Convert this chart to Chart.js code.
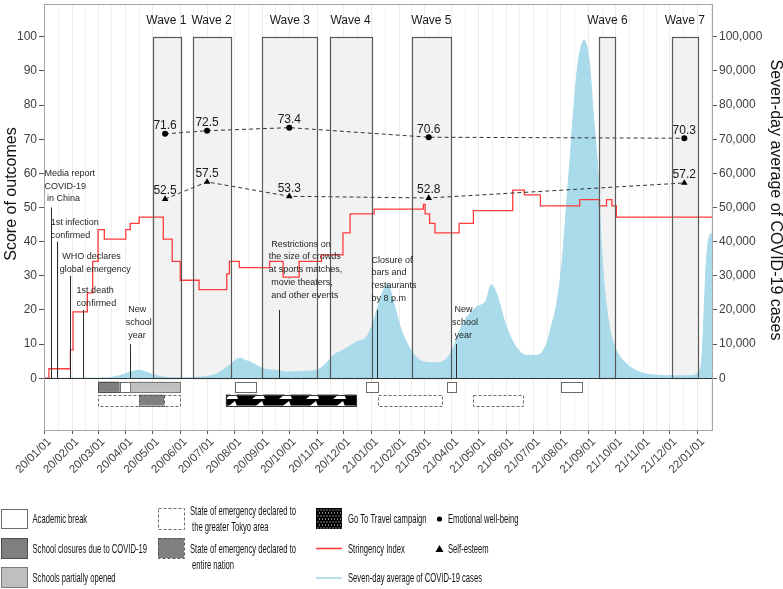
<!DOCTYPE html>
<html>
<head>
<meta charset="utf-8">
<script src="https://cdn.jsdelivr.net/npm/chart.js@4.4.0/dist/chart.umd.min.js"></script>
<style>
  html, body { margin: 0; padding: 0; background: #fff; }
  #wrap { width: 783px; height: 589px; }
</style>
</head>
<body>
<div id="wrap"><canvas id="chart" width="783" height="589"></canvas></div>
<script>
const FONT = "'Liberation Sans', Arial, sans-serif";

// --- 1. Data ---
const tickLabels = ['20/01/01', '20/02/01', '20/03/01', '20/04/01', '20/05/01', '20/06/01', '20/07/01',
    '20/08/01', '20/09/01', '20/10/01', '20/11/01', '20/12/01', '21/01/01', '21/02/01', '21/03/01',
    '21/04/01', '21/05/01', '21/06/01', '21/07/01', '21/08/01', '21/09/01', '21/10/01', '21/11/01',
    '21/12/01', '22/01/01'];
const scoreTicks = [0, 10, 20, 30, 40, 50, 60, 70, 80, 90, 100];
const caseTicks = [0, 10000, 20000, 30000, 40000, 50000, 60000, 70000, 80000, 90000, 100000];

const caseDates = ['2020-01-01', '2020-03-01', '2020-03-16', '2020-03-31', '2020-04-08', '2020-04-15',
    '2020-04-22', '2020-04-30', '2020-05-12', '2020-05-25', '2020-06-12', '2020-06-26', '2020-07-09',
    '2020-07-15', '2020-07-26', '2020-08-01', '2020-08-07', '2020-08-13', '2020-08-18', '2020-08-25',
    '2020-09-02', '2020-09-17', '2020-10-01', '2020-10-16', '2020-10-31', '2020-11-11', '2020-11-19',
    '2020-11-30', '2020-12-15', '2020-12-26', '2021-01-01', '2021-01-07', '2021-01-14', '2021-01-19',
    '2021-01-25', '2021-01-31', '2021-02-05', '2021-02-16', '2021-02-28', '2021-03-15', '2021-03-26',
    '2021-04-02', '2021-04-13', '2021-04-28', '2021-05-09', '2021-05-15', '2021-05-21', '2021-06-01',
    '2021-06-12', '2021-06-24', '2021-07-05', '2021-07-16', '2021-07-21', '2021-07-27', '2021-08-02',
    '2021-08-07', '2021-08-11', '2021-08-15', '2021-08-20', '2021-08-27', '2021-09-02', '2021-09-06',
    '2021-09-12', '2021-09-15', '2021-09-19', '2021-09-25', '2021-10-02', '2021-10-13', '2021-10-28',
    '2021-11-16', '2021-12-05', '2021-12-26', '2021-12-31', '2022-01-05', '2022-01-11', '2022-01-15',
    '2022-01-17'];
const caseValues = [0, 50, 300, 1200, 2000, 2300,
    2000, 1200, 400, 100, 200, 400, 1000,
    1800, 3800, 5200, 5900, 5200, 4800, 3800,
    2800, 2300, 1800, 2000, 2300, 4300, 6700,
    8200, 10600, 12000, 15000, 20000, 25500, 27800,
    23000, 17000, 13000, 7500, 4800, 4500, 5700,
    8700, 15900, 20800, 22700, 27400, 24700, 15000,
    9100, 6700, 6700, 10100, 15000, 21500, 33400,
    50000, 63600, 78000, 92000, 99000, 92000, 78000,
    58000, 40000, 25700, 14000, 8200, 4300, 1800,
    900, 700, 800, 1400, 4300, 35400, 42200,
    42500];

const stringencyDates = ['2020-01-01', '2020-01-06', '2020-01-30', '2020-02-02', '2020-02-18', '2020-02-24',
    '2020-03-01', '2020-03-08', '2020-04-01', '2020-04-06', '2020-04-16', '2020-05-13', '2020-05-23',
    '2020-06-01', '2020-06-22', '2020-07-23', '2020-07-26', '2020-08-06', '2020-09-09', '2020-09-24',
    '2020-10-12', '2020-11-06', '2020-11-30', '2020-12-08', '2021-01-04', '2021-02-28', '2021-03-02',
    '2021-03-07', '2021-03-13', '2021-04-09', '2021-04-25', '2021-06-08', '2021-06-21', '2021-07-09',
    '2021-08-22', '2021-09-13', '2021-09-21', '2021-09-27', '2021-10-02', '2022-01-17'];
const stringencyValues = [0, 2.78, 8.33, 19.44, 25.0, 34.26,
    43.52, 40.74, 43.52, 45.37, 47.22, 40.74, 34.26,
    28.7, 25.93, 30.56, 34.26, 32.41, 34.26, 29.63,
    34.26, 36.11, 42.59, 48.15, 49.54, 50.93, 48.15,
    45.37, 42.59, 45.37, 49.07, 55.09, 53.7, 50.46,
    52.31, 50.46, 52.31, 50.46, 47.22, 47.22];

const surveyDates = ['2020-05-15', '2020-07-01', '2020-10-01', '2021-03-06', '2021-12-17'];
const wellBeing = [71.6, 72.5, 73.4, 70.6, 70.3];
const selfEsteem = [52.5, 57.5, 53.3, 52.8, 57.2];

const waveNames = ['Wave 1', 'Wave 2', 'Wave 3', 'Wave 4', 'Wave 5', 'Wave 6', 'Wave 7'];
const waveStarts = ['2020-05-01', '2020-06-15', '2020-09-01', '2020-11-15', '2021-02-15', '2021-09-13', '2021-12-03'];
const waveEnds = ['2020-06-01', '2020-07-27', '2020-11-01', '2021-01-01', '2021-03-31', '2021-10-01', '2022-01-01'];

const eventDates = ['2020-01-08', '2020-01-15', '2020-01-30', '2020-02-13', '2020-04-06', '2020-09-19', '2021-01-07', '2021-04-06'];
const eventHeights = [50, 40, 30, 20, 10, 20, 20, 10];
const eventLabels = [
    ['Media report', 'COVID-19', ' in China'],
    ['1st infection', 'confirmed'],
    [' WHO declares', 'global emergency'],
    ['1st death', 'confirmed'],
    [' New', 'school', ' year'],
    [' Restrictions on', 'the size of crowds', 'at sports matches,', ' movie theaters,', ' and other events'],
    ['Closure of', 'bars and', 'restaurants', 'by 8 p.m'],
    [' New', 'school', ' year']
];
// where each label block starts (date of its left edge, score of its first line)
const noteDates = ['2020-01-01', '2020-01-08', '2020-01-18', '2020-02-06', '2020-04-01', '2020-09-08', '2021-01-01', '2021-04-01'];
const noteScores = [60, 45.6, 35.7, 25.7, 20.1, 39.3, 34.6, 20.1];

const schoolKinds = ['closed', 'break', 'partial', 'break', 'break', 'break', 'break'];
const schoolStarts = ['2020-03-01', '2020-03-25', '2020-04-06', '2020-08-01', '2020-12-26', '2021-03-27', '2021-08-01'];
const schoolEnds = ['2020-03-25', '2020-04-06', '2020-06-01', '2020-08-24', '2021-01-08', '2021-04-06', '2021-08-24'];

const policyKinds = ['tokyo', 'nation', 'travel', 'tokyo', 'tokyo'];
const policyStarts = ['2020-03-01', '2020-04-16', '2020-07-22', '2021-01-08', '2021-04-25'];
const policyEnds = ['2020-06-01', '2020-05-14', '2020-12-15', '2021-03-21', '2021-06-20'];

// --- 2. Helpers ---
const DAY0 = Date.UTC(2020, 0, 1);
const toDay = s => (Date.parse(s) - DAY0) / 864e5;
const labelDay = l => toDay('20' + l.slice(0, 2) + '-' + l.slice(3, 5) + '-01');

const majorDays = tickLabels.map(labelDay);
const labelByDay = new Map(tickLabels.map(l => [labelDay(l), l]));
const X_MIN = -0.5, X_MAX = 747;
const minorDays = [];
for (let i = 1; i < majorDays.length; i++) minorDays.push((majorDays[i - 1] + majorDays[i]) / 2);
const lastMinor = majorDays[majorDays.length - 1] + 15.5;
if (lastMinor <= X_MAX) minorDays.push(lastMinor);
const gridDays = majorDays.concat(minorDays).sort((a, b) => a - b);
const isMajor = v => labelByDay.has(v);

const travelPattern = (() => {
    const c = document.createElement('canvas');
    c.width = 27; c.height = 10;
    const p = c.getContext('2d');
    p.fillStyle = '#000';
    p.fillRect(0, 0, 27, 10);
    p.fillStyle = '#fff';
    p.beginPath();
    p.moveTo(9, 9); p.lineTo(19, 1); p.lineTo(22, 9);
    p.closePath();
    p.fill();
    return c;
})();

const ctx = document.getElementById('chart').getContext('2d');

const boxStyles = {
    closed: { fill: '#7f7f7f', stroke: '#4d4d4d', dash: [] },
    break: { fill: '#ffffff', stroke: '#6a6a6a', dash: [] },
    partial: { fill: '#bfbfbf', stroke: '#7a7a7a', dash: [] },
    tokyo: { fill: '#ffffff', stroke: '#6a6a6a', dash: [3, 2] },
    nation: { fill: '#7f7f7f', stroke: '#555555', dash: [3, 2] },
    travel: { fill: ctx.createPattern(travelPattern, 'repeat'), stroke: '#333333', dash: [] }
};

const px = v => Math.round(v) + 0.5;

function drawBox(c, x0, y0, x1, y1, st) {
    c.save();
    c.fillStyle = st.fill;
    c.fillRect(x0, y0, x1 - x0, y1 - y0);
    c.strokeStyle = st.stroke;
    c.lineWidth = 1;
    c.setLineDash(st.dash);
    c.strokeRect(px(x0), px(y0), Math.round(x1 - x0), Math.round(y1 - y0));
    c.restore();
}

function squeezedText(c, str, x, y, squeeze) {
    c.save();
    c.translate(x, y);
    c.scale(squeeze, 1);
    c.fillText(str, 0, 0);
    c.restore();
}

const noPad = s => { s.paddingTop = 0; s.paddingBottom = 0; s.paddingLeft = 0; s.paddingRight = 0; };

// --- 3. Decoration plugin (waves, events, timeline, titles, legend) ---
const decor = {
    id: 'decor',
    beforeDatasetsDraw(chart) {
        const { ctx: c, scales: { x, y } } = chart;
        c.save();
        c.fillStyle = '#f2f2f2';
        const yTop = y.getPixelForValue(100), yBot = y.getPixelForValue(0);
        waveStarts.forEach((s, i) => {
            const x0 = x.getPixelForValue(toDay(s)), x1 = x.getPixelForValue(toDay(waveEnds[i]));
            c.fillRect(x0, yTop, x1 - x0, yBot - yTop);
        });
        c.restore();
    },
    afterDatasetsDraw(chart) {
        const { ctx: c, chartArea: a, scales: { x, y } } = chart;
        const yTop = y.getPixelForValue(100), yBot = y.getPixelForValue(0);
        c.save();

        // wave outlines and names
        c.strokeStyle = '#595959';
        c.lineWidth = 1.2;
        c.fillStyle = '#1a1a1a';
        c.font = '12px ' + FONT;
        c.textAlign = 'center';
        c.textBaseline = 'middle';
        waveStarts.forEach((s, i) => {
            const x0 = x.getPixelForValue(toDay(s)), x1 = x.getPixelForValue(toDay(waveEnds[i]));
            c.strokeRect(px(x0), px(yTop), Math.round(x1 - x0), Math.round(yBot - yTop));
            c.fillText(waveNames[i], (x0 + x1) / 2, yTop - 16);
        });

        // zero line
        c.strokeStyle = '#333';
        c.lineWidth = 1;
        c.beginPath();
        c.moveTo(a.left, px(yBot));
        c.lineTo(a.right, px(yBot));
        c.stroke();

        // events
        c.strokeStyle = '#2b2b2b';
        eventDates.forEach((d, i) => {
            const ex = px(x.getPixelForValue(toDay(d)));
            c.beginPath();
            c.moveTo(ex, yBot);
            c.lineTo(ex, y.getPixelForValue(eventHeights[i]));
            c.stroke();
        });
        c.font = '9px ' + FONT;
        c.textAlign = 'left';
        c.fillStyle = '#1f1f1f';
        eventLabels.forEach((lines, i) => {
            const tx = x.getPixelForValue(toDay(noteDates[i]));
            const ty = y.getPixelForValue(noteScores[i]);
            lines.forEach((ln, k) => c.fillText(ln, tx, ty + k * 12.8));
        });

        // survey value labels
        c.font = '12px ' + FONT;
        c.textAlign = 'center';
        c.fillStyle = '#1a1a1a';
        surveyDates.forEach((d, i) => {
            const sx = x.getPixelForValue(toDay(d));
            c.fillText(wellBeing[i].toFixed(1), sx, y.getPixelForValue(wellBeing[i]) - 8);
            c.fillText(selfEsteem[i].toFixed(1), sx, y.getPixelForValue(selfEsteem[i]) - 8);
        });

        // timeline rows below zero
        const row1 = [y.getPixelForValue(-1), y.getPixelForValue(-4)];
        const row2 = [y.getPixelForValue(-4.8), y.getPixelForValue(-8)];
        schoolStarts.forEach((s, i) => {
            drawBox(c, x.getPixelForValue(toDay(s)), row1[0], x.getPixelForValue(toDay(schoolEnds[i])), row1[1], boxStyles[schoolKinds[i]]);
        });
        policyStarts.forEach((s, i) => {
            drawBox(c, x.getPixelForValue(toDay(s)), row2[0], x.getPixelForValue(toDay(policyEnds[i])), row2[1], boxStyles[policyKinds[i]]);
        });

        // panel border
        c.strokeStyle = '#a6a6a6';
        c.lineWidth = 1;
        c.strokeRect(px(a.left), px(a.top), Math.round(a.right - a.left), Math.round(a.bottom - a.top));
        c.restore();
    },
    afterDraw(chart) {
        const c = chart.ctx;
        c.save();
        // axis titles
        c.fillStyle = '#111';
        c.font = '16px ' + FONT;
        c.textAlign = 'center';
        c.textBaseline = 'middle';
        c.save();
        c.translate(12, 194);
        c.rotate(-Math.PI / 2);
        c.fillText('Score of outcomes', 0, 0);
        c.restore();
        c.save();
        c.translate(775, 200);
        c.rotate(Math.PI / 2);
        c.fillText('Seven-day average of COVID-19 cases', 0, 0);
        c.restore();

        // legend swatches
        drawBox(c, 1, 509, 27, 528, boxStyles.break);
        drawBox(c, 1, 538, 27, 558, boxStyles.closed);
        drawBox(c, 1, 567, 27, 587, boxStyles.partial);
        drawBox(c, 158, 508, 184, 529, boxStyles.tokyo);
        drawBox(c, 158, 538, 184, 558, boxStyles.nation);
        c.fillStyle = '#000';
        c.fillRect(316, 508, 26, 21);
        c.fillStyle = '#fff';
        for (let j = 0; j < 7; j++) {
            for (let i = 0; i < 9; i++) {
                c.fillRect(317.5 + i * 3 + (j % 2) * 1.5, 509.5 + j * 3, 1, 1);
            }
        }
        c.lineWidth = 1.6;
        c.strokeStyle = '#ff3b3b';
        c.beginPath(); c.moveTo(316, 548.5); c.lineTo(342, 548.5); c.stroke();
        c.strokeStyle = '#a9dbea';
        c.beginPath(); c.moveTo(316, 578); c.lineTo(342, 578); c.stroke();
        c.fillStyle = '#000';
        c.beginPath(); c.arc(439.5, 519, 2.6, 0, Math.PI * 2); c.fill();
        c.beginPath(); c.moveTo(439.5, 545); c.lineTo(443.5, 552); c.lineTo(435.5, 552); c.closePath(); c.fill();

        // legend texts (narrow face)
        c.fillStyle = '#111';
        c.font = '13.5px ' + FONT;
        c.textAlign = 'left';
        c.textBaseline = 'middle';
        const sq = 0.565;
        squeezedText(c, 'Academic break', 32.5, 519.3, sq);
        squeezedText(c, 'School closures due to COVID-19', 32.5, 549, sq);
        squeezedText(c, 'Schools partially opened', 32.5, 578.3, sq);
        squeezedText(c, 'State of emergency declared to', 190, 511.7, sq);
        squeezedText(c, ' the greater Tokyo area', 190, 527.7, sq);
        squeezedText(c, 'State of emergency declared to', 190, 549, sq);
        squeezedText(c, ' entire nation', 190, 565, sq);
        squeezedText(c, 'Go To Travel campaign', 348, 519.3, sq);
        squeezedText(c, 'Stringency Index', 348, 549, sq);
        squeezedText(c, 'Seven-day average of COVID-19 cases', 348, 578.3, sq);
        squeezedText(c, 'Emotional well-being', 448, 519.3, sq);
        squeezedText(c, 'Self-esteem', 448, 549, sq);
        c.restore();
    }
};

// --- 4. Chart ---
const tickFont = { family: FONT, size: 12 };

new Chart(ctx, {
    type: 'line',
    data: {
        datasets: [
            {
                label: 'Emotional well-being',
                data: surveyDates.map((d, i) => ({ x: toDay(d), y: wellBeing[i] })),
                yAxisID: 'y',
                borderColor: '#333',
                borderWidth: 1,
                borderDash: [4, 3],
                pointStyle: 'circle',
                pointRadius: 3,
                pointBackgroundColor: '#000',
                pointBorderWidth: 0,
                order: 0
            },
            {
                label: 'Self-esteem',
                data: surveyDates.map((d, i) => ({ x: toDay(d), y: selfEsteem[i] })),
                yAxisID: 'y',
                borderColor: '#333',
                borderWidth: 1,
                borderDash: [4, 3],
                pointStyle: 'triangle',
                pointRadius: 3.8,
                pointBackgroundColor: '#000',
                pointBorderWidth: 0,
                order: 1
            },
            {
                label: 'Stringency Index',
                data: stringencyDates.map((d, i) => ({ x: toDay(d), y: stringencyValues[i] })),
                yAxisID: 'y',
                stepped: true,
                borderColor: '#ff3b3b',
                borderWidth: 1.3,
                pointRadius: 0,
                order: 2
            },
            {
                label: 'Seven-day average of COVID-19 cases',
                data: caseDates.map((d, i) => ({ x: toDay(d), y: caseValues[i] })),
                yAxisID: 'y2',
                borderColor: '#a9dbea',
                backgroundColor: '#a9dbea',
                borderWidth: 1,
                fill: 'origin',
                cubicInterpolationMode: 'monotone',
                pointRadius: 0,
                order: 3
            }
        ]
    },
    options: {
        responsive: false,
        animation: false,
        devicePixelRatio: 1,
        layout: { padding: { top: 2, bottom: 89, left: 0, right: 0 } },
        plugins: {
            legend: { display: false },
            tooltip: { enabled: false }
        },
        scales: {
            x: {
                type: 'linear',
                min: X_MIN,
                max: X_MAX,
                afterBuildTicks: s => { s.ticks = gridDays.map(v => ({ value: v })); },
                afterFit: s => { s.height = 70; noPad(s); },
                ticks: {
                    autoSkip: false,
                    minRotation: 45,
                    maxRotation: 45,
                    padding: 1,
                    labelOffset: 5,
                    color: '#404040',
                    font: { family: FONT, size: 11.5 },
                    callback: v => labelByDay.get(v) || ''
                },
                grid: {
                    color: '#ebebeb',
                    lineWidth: c => (c.tick && isMajor(c.tick.value)) ? 1 : 0.7,
                    tickColor: c => (c.tick && isMajor(c.tick.value)) ? '#555' : 'rgba(0,0,0,0)',
                    tickLength: 4
                },
                border: { display: false }
            },
            y: {
                type: 'linear',
                position: 'left',
                min: -15.16,
                max: 109.62,
                afterBuildTicks: s => { s.ticks = scoreTicks.map(v => ({ value: v })); },
                afterFit: s => { s.width = 44; noPad(s); },
                ticks: { color: '#404040', font: tickFont, padding: 2 },
                grid: { drawOnChartArea: false, tickLength: 5, tickColor: '#555' },
                border: { display: false }
            },
            y2: {
                type: 'linear',
                position: 'right',
                min: -15160,
                max: 109620,
                afterBuildTicks: s => { s.ticks = caseTicks.map(v => ({ value: v })); },
                afterFit: s => { s.width = 71; noPad(s); },
                ticks: {
                    color: '#404040',
                    font: tickFont,
                    padding: 2,
                    callback: v => v.toLocaleString('en-US')
                },
                grid: { drawOnChartArea: false, tickLength: 5, tickColor: '#555' },
                border: { display: false }
            }
        }
    },
    plugins: [decor]
});
</script>
</body>
</html>
